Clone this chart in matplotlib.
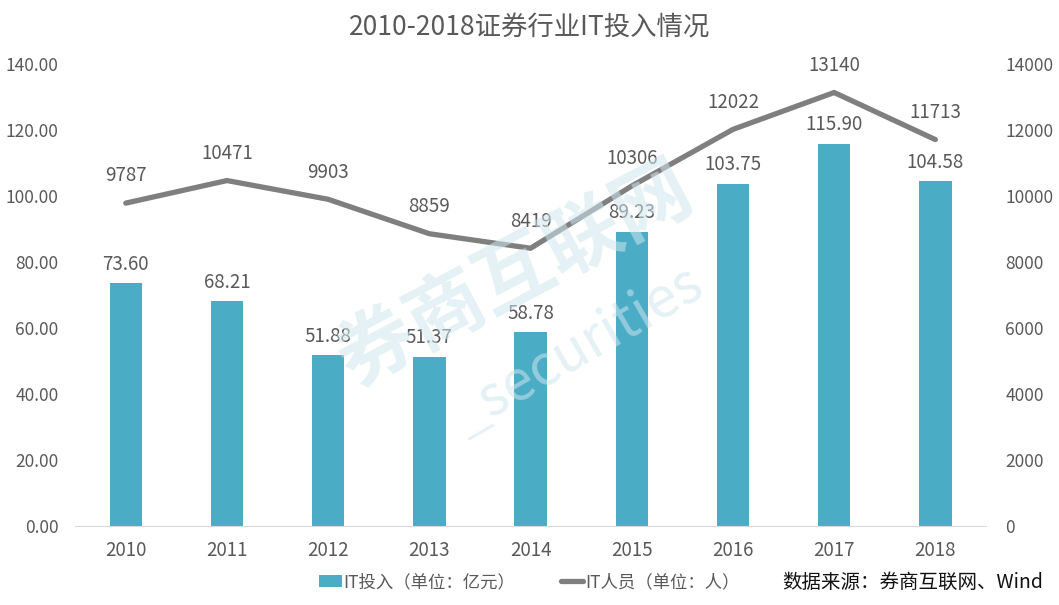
import matplotlib.pyplot as plt
import numpy as np

plt.rcParams['font.family'] = ['Noto Sans CJK SC', 'DejaVu Sans']

years = ['2010', '2011', '2012', '2013', '2014', '2015', '2016', '2017', '2018']
it_invest = [73.60, 68.21, 51.88, 51.37, 58.78, 89.23, 103.75, 115.90, 104.58]
it_staff = [9787, 10471, 9903, 8859, 8419, 10306, 12022, 13140, 11713]

bar_color = '#4BACC6'
line_color = '#7F7F7F'
text_color = '#595959'

fig = plt.figure(figsize=(10.59, 6.05), dpi=100)
ax1 = fig.add_axes([0.071, 0.1306, 0.86, 0.7634])
ax2 = ax1.twinx()

x = np.arange(len(years))
ax1.bar(x, it_invest, width=0.32, color=bar_color, label='IT投入（单位：亿元）', zorder=2)
ax2.plot(x, it_staff, color=line_color, lw=3.8, solid_capstyle='round',
         label='IT人员（单位：人）', zorder=3)

for xi, v in zip(x, it_invest):
    ax1.annotate(f'{v:.2f}', (xi, v), xytext=(0, 6), textcoords='offset points',
                 ha='center', va='bottom', fontsize=13.5, color=text_color)
for xi, v in zip(x, it_staff):
    ax2.annotate(f'{v}', (xi, v), xytext=(0, 12), textcoords='offset points',
                 ha='center', va='bottom', fontsize=13.5, color=text_color)

ax1.set_xlim(-0.5, len(years) - 0.5)
ax1.set_ylim(0, 140)
ax2.set_ylim(0, 14000)
ax1.set_yticks(np.arange(0, 141, 20))
ax1.set_yticklabels([f'{t:.2f}' for t in np.arange(0, 141, 20)])
ax2.set_yticks(np.arange(0, 14001, 2000))
ax1.set_xticks(x)
ax1.set_xticklabels(years)

for ax in (ax1, ax2):
    for s in ax.spines.values():
        s.set_visible(False)
    ax.tick_params(length=0, labelsize=12.5, colors=text_color)
ax1.spines['bottom'].set_visible(True)
ax1.spines['bottom'].set_color('#D9D9D9')
ax1.tick_params(axis='x', pad=10, labelsize=13.5)
ax1.tick_params(axis='y', pad=12)
ax2.tick_params(axis='y', pad=14)

fig.text(0.5, 0.955, '2010-2018证券行业IT投入情况', ha='center', va='center',
         fontsize=19, color=text_color)

h1, l1 = ax1.get_legend_handles_labels()
h2, l2 = ax2.get_legend_handles_labels()
fig.legend(h1 + h2, l1 + l2, loc='center', bbox_to_anchor=(0.5, 0.038), ncol=2,
           frameon=False, fontsize=12.5, labelcolor=text_color, handlelength=1.3,
           handletextpad=0.1, columnspacing=2.6)
fig.text(0.985, 0.038, '数据来源：券商互联网、Wind', ha='right', va='center',
         fontsize=14, color='#111111')

# watermark
fig.text(0.487, 0.545, '券商互联网', rotation=28, ha='center', va='center',
         fontsize=56, fontweight='bold', color='#CFE6EE', alpha=0.55, zorder=10)
fig.text(0.545, 0.42, '_securities', rotation=30, ha='center', va='center',
         fontsize=40, color='#CFE6EE', alpha=0.55, zorder=10)

fig.savefig('out.png', dpi=100)
